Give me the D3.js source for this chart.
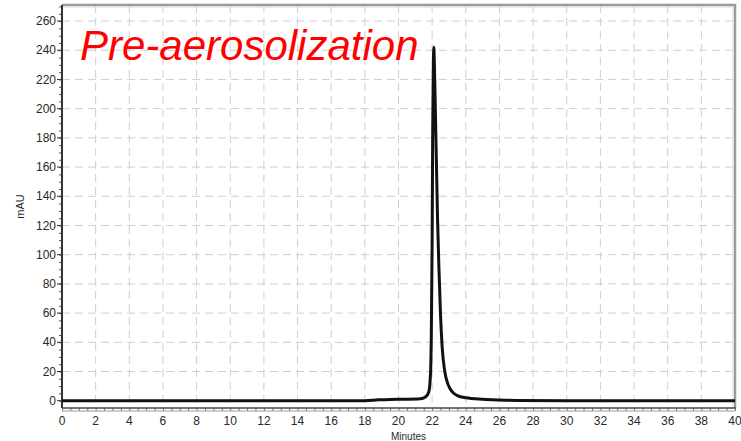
<!DOCTYPE html>
<html lang="en">
<head>
<meta charset="UTF-8">
<title>Chromatogram</title>
<script src="https://d3js.org/d3.v7.min.js"></script>
<style>
    body, html { margin: 0; padding: 0; background: #fff; }
    svg { display: block; }
    .tick-label { font-family: "Liberation Sans", Arial, sans-serif; font-size: 12px; fill: #2a2a2a; }
</style>
</head>
<body>
<svg width="741" height="441"></svg>
<script>
    // chromatogram trace: minutes vs mAU
    const minutes = [0, 5, 10, 15, 18, 18.8, 19.5, 20.5, 21.3, 21.6, 21.8, 21.9, 21.95, 22.0, 22.03, 22.07, 22.1, 22.13,
        22.18, 22.25, 22.32, 22.4, 22.5, 22.6, 22.75, 22.95, 23.2, 23.5, 24, 25, 26, 27, 30, 35, 40];
    const mAU = [0, 0, 0, 0, 0, 0.6, 0.9, 1.0, 1.3, 2.5, 6, 18, 45, 110, 180, 228, 242, 232,
        205, 165, 125, 92, 58, 36, 20, 11, 6, 3.5, 2, 1, 0.5, 0.2, 0, 0, 0];
    const xTicks = d3.range(0, 41, 2);
    const yTicks = d3.range(0, 261, 20);
    const title = "Pre-aerosolization";

    const svg = d3.select("svg");
    const pLeft = 62, pRight = 735, pTop = 5, pBottom = 408;

    const x = d3.scaleLinear().domain([0, 40]).range([pLeft, pRight]);
    const y = d3.scaleLinear().domain([-5, 271]).range([pBottom, pTop]);

    // grid
    const grid = svg.append("g")
        .attr("stroke", "#cfcfcf")
        .attr("stroke-width", 1)
        .attr("stroke-dasharray", "8,5");
    grid.selectAll(".vg").data(xTicks.slice(1, -1)).enter().append("line")
        .attr("x1", d => x(d)).attr("x2", d => x(d))
        .attr("y1", pTop).attr("y2", pBottom);
    grid.selectAll(".hg").data(yTicks.slice(1)).enter().append("line")
        .attr("x1", pLeft).attr("x2", pRight)
        .attr("y1", d => y(d)).attr("y2", d => y(d));

    // frame top/right
    svg.append("path")
        .attr("d", `M${pLeft},${pTop}H${pRight}V${pBottom}`)
        .attr("fill", "none")
        .attr("stroke", "#9a9a9a")
        .attr("stroke-width", 2.5);
    svg.append("path")
        .attr("d", `M${pLeft},${pTop + 2}H${pRight - 2}V${pBottom}`)
        .attr("fill", "none")
        .attr("stroke", "#dcdcdc")
        .attr("stroke-width", 1);

    // y axis
    const yAxis = svg.append("g").attr("transform", `translate(${pLeft},0)`);
    yAxis.call(d3.axisLeft(y).tickValues(d3.range(0, 271, 5)).tickSize(3).tickFormat(""));
    yAxis.call(g => g.select(".domain").remove());
    yAxis.selectAll(".tick line").attr("stroke", "#555");
    yAxis.append("line").attr("x1", 0).attr("x2", 0).attr("y1", pTop).attr("y2", pBottom)
        .attr("stroke", "#333").attr("stroke-width", 2);
    yAxis.selectAll(".ylab").data(yTicks).enter().append("text")
        .attr("class", "tick-label")
        .attr("x", -6)
        .attr("y", d => y(d))
        .attr("dy", "0.35em")
        .attr("text-anchor", "end")
        .text(d => d);
    yAxis.selectAll(".ymaj").data(yTicks).enter().append("line")
        .attr("x1", -5).attr("x2", 0)
        .attr("y1", d => y(d)).attr("y2", d => y(d))
        .attr("stroke", "#333");

    // x axis
    const xAxis = svg.append("g").attr("transform", `translate(0,${pBottom})`);
    xAxis.call(d3.axisBottom(x).tickValues(d3.range(0, 40.01, 0.5)).tickSize(3).tickFormat(""));
    xAxis.call(g => g.select(".domain").remove());
    xAxis.selectAll(".tick line").attr("stroke", "#777");
    xAxis.append("line").attr("x1", pLeft).attr("x2", pRight + 1).attr("y1", 0).attr("y2", 0)
        .attr("stroke", "#444").attr("stroke-width", 1.5);
    xAxis.append("line").attr("x1", pLeft).attr("x2", pRight).attr("y1", 3).attr("y2", 3)
        .attr("stroke", "#999").attr("stroke-width", 1);
    xAxis.selectAll(".xlab").data(xTicks).enter().append("text")
        .attr("class", "tick-label")
        .attr("x", d => x(d))
        .attr("y", 17)
        .attr("text-anchor", "middle")
        .text(d => d);

    // axis titles
    svg.append("text")
        .attr("class", "tick-label")
        .attr("transform", `translate(24,${(pTop + pBottom) / 2}) rotate(-90)`)
        .attr("text-anchor", "middle")
        .style("font-size", "11px")
        .text("mAU");
    svg.append("text")
        .attr("class", "tick-label")
        .attr("x", x(20) + 10)
        .attr("y", 440)
        .attr("text-anchor", "middle")
        .style("font-size", "10px")
        .text("Minutes");

    // trace
    const data = minutes.map((m, i) => ({ m: m, v: mAU[i] }));
    const line = d3.line()
        .x(d => x(d.m))
        .y(d => y(d.v))
        .curve(d3.curveMonotoneX);
    svg.append("path")
        .datum(data)
        .attr("fill", "none")
        .attr("stroke", "#111")
        .attr("stroke-width", 3)
        .attr("stroke-linejoin", "round")
        .attr("d", line);

    // title
    svg.append("text")
        .attr("x", 80)
        .attr("y", 60)
        .attr("fill", "#ff0000")
        .style("font-family", "'Liberation Sans', Arial, sans-serif")
        .style("font-style", "italic")
        .style("font-size", "42px")
        .text(title);
</script>
</body>
</html>
